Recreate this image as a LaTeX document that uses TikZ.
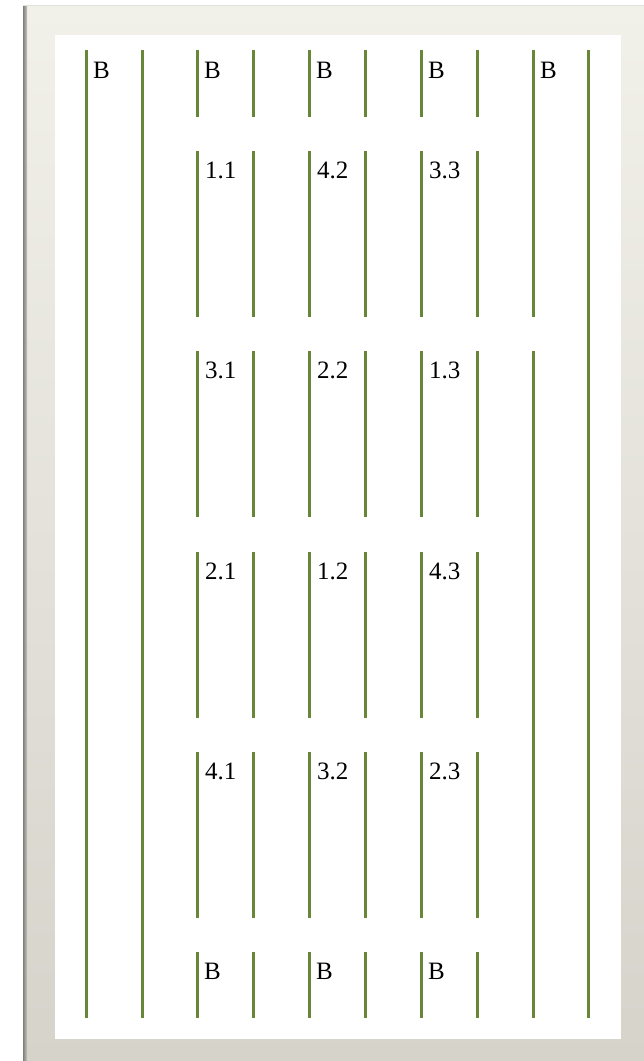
\documentclass[tikz,border=0pt]{standalone}
\usepackage{fontspec}
\setmainfont{Liberation Serif}
\definecolor{frametop}{RGB}{241,240,233}
\definecolor{framebot}{RGB}{214,211,203}
\definecolor{stripdark}{RGB}{128,128,122}
\definecolor{stripligh}{RGB}{200,198,190}
\definecolor{plantgreen}{RGB}{104,134,56}
\tikzset{
  rowline/.style={draw=plantgreen, line width=3pt},
  plotlabel/.style={anchor=base west, inner sep=0pt, font=\fontsize{25}{25}\selectfont, text=black}
}
\begin{document}
\begin{tikzpicture}[x=1pt,y=-1pt]
\useasboundingbox (0,0) rectangle (644,1061);
\fill[white] (0,0) rectangle (644,1061);
% frame
\shade[top color=frametop, bottom color=framebot] (23,6) rectangle (644,1061);
\fill[white!88!black] (23,4.5) rectangle (644,6);
\shade[left color=stripdark, right color=stripligh] (23,6) rectangle (27,1061);
\fill[white] (55,35) rectangle (621,1039);
% long lines
\foreach \x in {86,142,588} \draw[rowline] (\x,50) -- (\x,1018);
\draw[rowline] (533,50) -- (533,317);
\draw[rowline] (533,351) -- (533,1018);
% short pairs
\foreach \t/\b in {50/117,151/317,351/517,552/718,752/918,952/1018}{
  \foreach \x in {197,253,309,365,421,477} \draw[rowline] (\x,\t) -- (\x,\b);
}
% labels
\node[plotlabel] (b1) at (93,78) {B};
\node[plotlabel] (b2) at (204,78) {B};
\node[plotlabel] (b3) at (316,78) {B};
\node[plotlabel] (b4) at (428,78) {B};
\node[plotlabel] (b5) at (540,78) {B};
\node[plotlabel] (p11) at (205,178) {1.1};
\node[plotlabel] (p42) at (317,178) {4.2};
\node[plotlabel] (p33) at (429,178) {3.3};
\node[plotlabel] (p31) at (205,378) {3.1};
\node[plotlabel] (p22) at (317,378) {2.2};
\node[plotlabel] (p13) at (429,378) {1.3};
\node[plotlabel] (p21) at (205,579) {2.1};
\node[plotlabel] (p12) at (317,579) {1.2};
\node[plotlabel] (p43) at (429,579) {4.3};
\node[plotlabel] (p41) at (205,779) {4.1};
\node[plotlabel] (p32) at (317,779) {3.2};
\node[plotlabel] (p23) at (429,779) {2.3};
\node[plotlabel] (b6) at (204,979) {B};
\node[plotlabel] (b7) at (316,979) {B};
\node[plotlabel] (b8) at (428,979) {B};
\end{tikzpicture}
\end{document}
